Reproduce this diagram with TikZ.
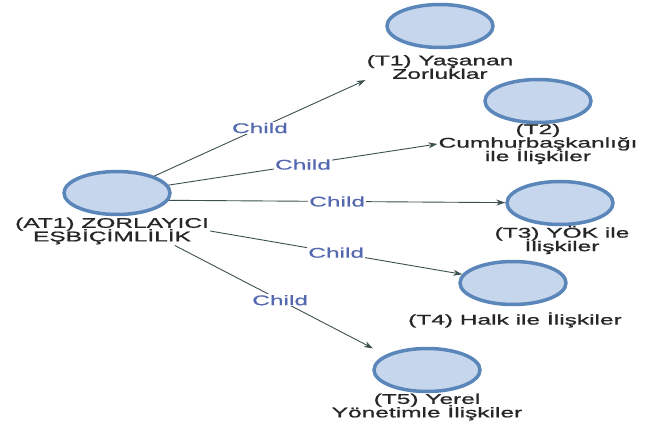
\documentclass[tikz,border=0pt]{standalone}
\usepackage{fontspec}
\setmainfont{Liberation Sans}
\newfontfamily\labelfont[FakeStretch=1.75,FakeBold=1.2]{Liberation Sans}
\newfontfamily\childfont[FakeStretch=1.75,FakeBold=0.6]{Liberation Sans}
\newcommand\captionfont{\labelfont\fontsize{14}{13.5}\selectfont\lineskiplimit=-20pt\relax}
\usetikzlibrary{shapes.geometric,arrows.meta}
\definecolor{ringblue}{HTML}{5B86BA}
\definecolor{fillblue}{HTML}{C6D6EC}
\definecolor{edgegray}{HTML}{3D5050}
\definecolor{childblue}{HTML}{5468B0}
\definecolor{textgray}{HTML}{262626}
\begin{document}
\begin{tikzpicture}[x=1pt,y=-1pt,
    topic/.style={ellipse,draw=ringblue,line width=3.5pt,fill=fillblue,minimum width=106pt,minimum height=43pt,inner sep=0pt},
    caption/.style={align=center,text=textgray,inner sep=1pt,font=\captionfont},
    childtag/.style={fill=white,inner sep=1pt,text=childblue,font=\childfont\fontsize{14}{14}\selectfont},
    linkedge/.style={draw=edgegray,line width=0.9pt,-{Stealth[length=9pt,width=6pt]}}]
    \useasboundingbox (0,0) rectangle (646,425);
    \node[topic] (AT1) at (117,193) {};
    \node[topic] (T1) at (440,26) {};
    \node[topic] (T2) at (538,101) {};
    \node[topic] (T3) at (560,203) {};
    \node[topic] (T4) at (513,283) {};
    \node[topic] (T5) at (427,370) {};
    \node[caption] (AT1txt) at (112,231) {(AT1) ZORLAYICI\\EŞBİÇİMLİLİK};
    \node[caption] (T1txt) at (440,67) {(T1) Yaşanan\\Zorluklar};
    \node[caption] (T2txt) at (538,144) {(T2)\\Cumhurbaşkanlığı\\ile İlişkiler};
    \node[caption] (T3txt) at (562,240) {(T3) YÖK ile\\İlişkiler};
    \node[caption] (T4txt) at (515,320) {(T4) Halk ile İlişkiler};
    \node[caption] (T5txt) at (427,407) {(T5) Yerel\\Yönetimle İlişkiler};
    \draw[linkedge] (AT1) -- node[childtag] {Child} (T1txt.south west);
    \draw[linkedge] (AT1) -- node[childtag] {Child} (T2txt.west);
    \draw[linkedge] (AT1.-8) -- node[childtag] {Child} (T3);
    \draw[linkedge] (AT1txt.east) -- node[childtag] {Child} (T4);
    \draw[linkedge,shorten >=14pt] (AT1txt.-13) -- node[childtag] {Child} (T5.160);
\end{tikzpicture}
\end{document}
